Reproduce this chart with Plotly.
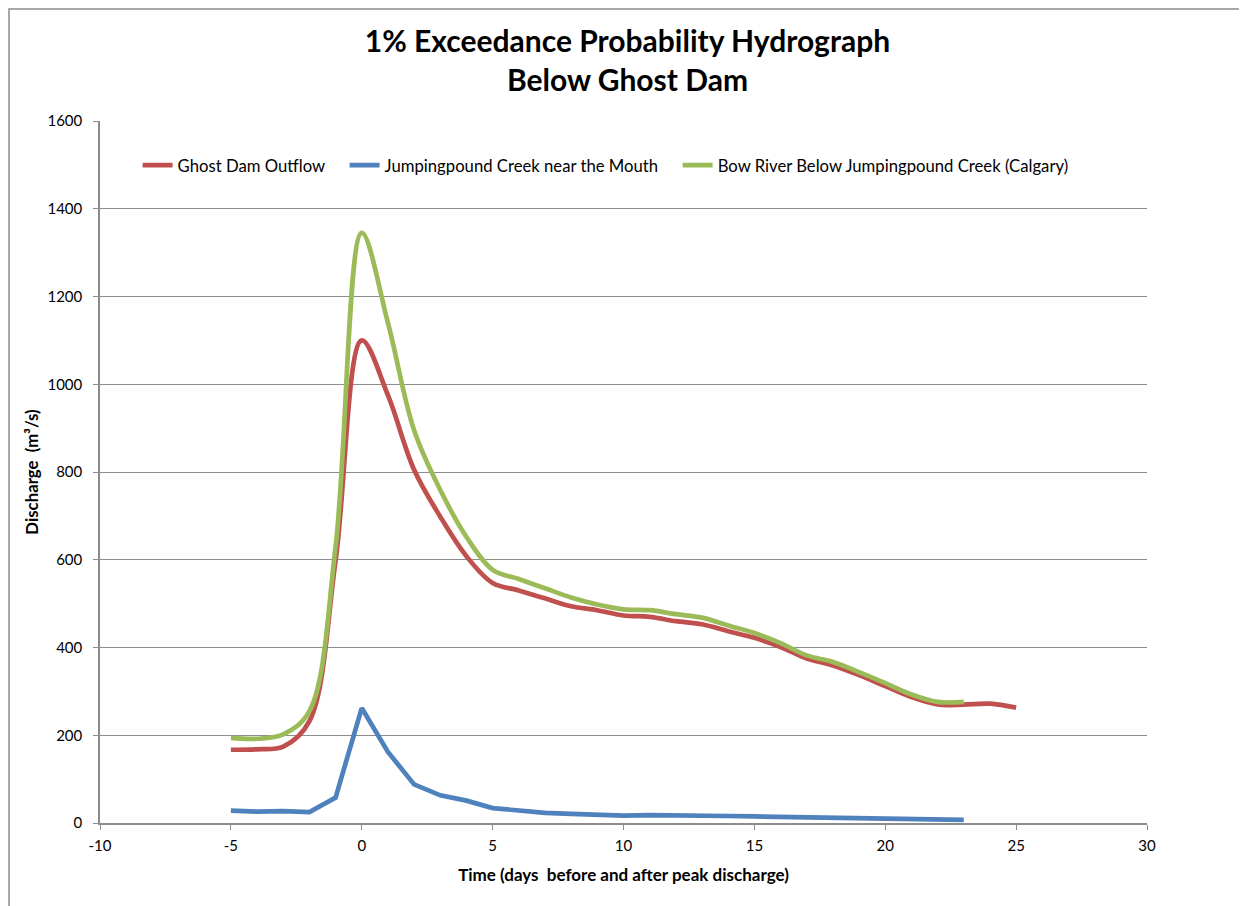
import plotly.graph_objects as go

days_ghost = list(range(-5, 26))
days_other = list(range(-5, 24))

ghost_dam_outflow = [167, 168, 174, 232, 598, 1100, 975, 805, 698, 608, 547, 530, 512, 494,
                     485, 473, 470, 460, 453, 437, 422, 401, 375, 359, 337, 312, 287, 270,
                     270, 272, 263]
jumpingpound = [28, 26, 27, 25, 58, 262, 162, 88, 63, 51, 34, 28, 23, 21, 19, 17, 18, 18,
                17, 16, 15, 14, 13, 12, 11, 10, 9, 8, 7]
bow_river = [194, 192, 202, 255, 630, 1345, 1140, 895, 759, 652, 577, 556, 535, 514, 498,
             487, 485, 476, 468, 450, 433, 410, 382, 367, 344, 319, 293, 276, 276]

x_ticks = [-10, -5, 0, 5, 10, 15, 20, 25, 30]
y_ticks = [0, 200, 400, 600, 800, 1000, 1200, 1400, 1600]

FONT = "Lato"
GRID = "#8c8c8c"

fig = go.Figure()
fig.add_trace(go.Scatter(x=days_ghost, y=ghost_dam_outflow, mode="lines",
                         name="Ghost Dam Outflow", legend="legend",
                         line=dict(color="#C0504D", width=4.7, shape="spline", smoothing=1.0)))
fig.add_trace(go.Scatter(x=days_other, y=jumpingpound, mode="lines",
                         name="Jumpingpound Creek near the Mouth", legend="legend2",
                         line=dict(color="#4F81BD", width=4.7)))
fig.add_trace(go.Scatter(x=days_other, y=bow_river, mode="lines",
                         name="Bow River Below Jumpingpound Creek (Calgary)", legend="legend3",
                         line=dict(color="#9BBB59", width=4.7, shape="spline", smoothing=1.0)))

legend_common = dict(orientation="h", xanchor="left", y=0.937, yanchor="middle",
                     font=dict(family=FONT, size=16.7), bgcolor="rgba(0,0,0,0)")

fig.update_layout(
    width=1239, height=898,
    margin=dict(l=92, r=100, t=113, b=83),
    paper_bgcolor="white", plot_bgcolor="white",
    font=dict(family=FONT, size=15, color="#000000"),
    title=dict(text="<b>1% Exceedance Probability Hydrograph<br>Below Ghost Dam</b>",
               x=0.5, xanchor="center", y=0.951, yanchor="top",
               font=dict(family=FONT, size=30, color="#000000")),
    legend=dict(x=0.0359, **legend_common),
    legend2=dict(x=0.2336, **legend_common),
    legend3=dict(x=0.5517, **legend_common),
    showlegend=True,
    shapes=[dict(type="rect", xref="paper", yref="paper",
                 x0=-0.0869, x1=1.3, y0=-0.3, y1=1.1595,
                 line=dict(color="#8c8c8c", width=1.5), fillcolor="rgba(0,0,0,0)",
                 layer="below")],
)

fig.update_xaxes(range=[-10, 30], tickvals=x_ticks, ticktext=[str(v) for v in x_ticks],
                 showgrid=False, zeroline=False, showline=True, linecolor=GRID,
                 linewidth=1.5, ticks="outside", ticklen=5, tickcolor=GRID,
                 ticklabelstandoff=3,
                 tickfont=dict(family=FONT, size=15),
                 title=dict(text="<b>Time (days  before and after peak discharge)</b>",
                            font=dict(family=FONT, size=17), standoff=16))
fig.update_yaxes(range=[0, 1600], tickvals=y_ticks, ticktext=[str(v) for v in y_ticks],
                 showgrid=True, gridcolor=GRID, gridwidth=1.2, zeroline=False,
                 showline=True, linecolor=GRID, linewidth=1.5,
                 ticks="outside", ticklen=5, tickcolor=GRID,
                 ticklabelstandoff=8,
                 tickfont=dict(family=FONT, size=15),
                 title=dict(text="<b>Discharge  (m³/s)</b>",
                            font=dict(family=FONT, size=16.8), standoff=5))

fig.write_html("out.html")
